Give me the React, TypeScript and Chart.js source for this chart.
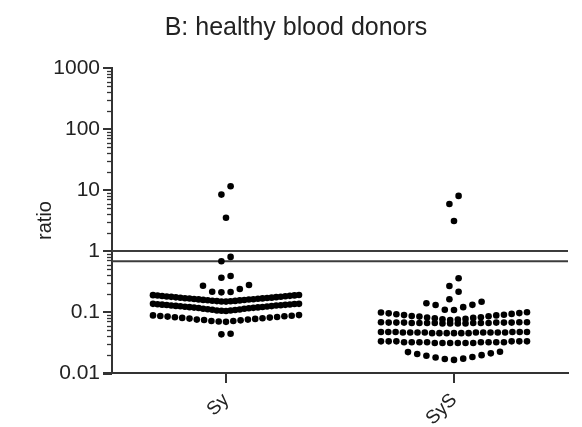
import React, { useEffect, useRef } from 'react';
import { Chart, registerables } from 'chart.js';

Chart.register(...registerables);

// ---------------- data ----------------
const TITLE = 'B: healthy blood donors';
const Y_TITLE = 'ratio';
const CATEGORIES = ['Sy', 'SyS'];
const Y_TICKS = [0.01, 0.1, 1, 10, 100, 1000];
const Y_TICK_LABELS = ['0.01', '0.1', '1', '10', '100', '1000'];
const REF_LINES = [1, 0.68];

const SY_VALUES = [
  11.5, 8.4, 3.5, 0.8, 0.68, 0.39, 0.365,
  0.277, 0.27, 0.238, 0.215, 0.213, 0.21,
  0.148, 0.149, 0.15, 0.151, 0.152, 0.153, 0.155, 0.156, 0.157, 0.158, 0.16,
  0.161, 0.162, 0.163, 0.165, 0.166, 0.167, 0.168, 0.17, 0.171, 0.172, 0.174,
  0.175, 0.177, 0.178, 0.18, 0.181, 0.183, 0.184, 0.186, 0.187, 0.189, 0.19,
  0.104, 0.105, 0.106, 0.106, 0.108, 0.109, 0.11, 0.111, 0.113, 0.113, 0.115,
  0.116, 0.117, 0.118, 0.119, 0.12, 0.121, 0.122, 0.123, 0.124, 0.125, 0.126,
  0.128, 0.128, 0.129, 0.13, 0.131, 0.132, 0.133, 0.134, 0.135, 0.136, 0.136,
  0.069, 0.07, 0.071, 0.071, 0.073, 0.074, 0.075, 0.075, 0.077, 0.078, 0.079,
  0.08, 0.081, 0.082, 0.083, 0.084, 0.085, 0.086, 0.087, 0.088, 0.089,
  0.044, 0.043,
];

const SYS_VALUES = [
  8.0, 5.9, 3.1,
  0.357, 0.267, 0.215, 0.162,
  0.147, 0.139, 0.131, 0.13, 0.12, 0.109, 0.108,
  0.074, 0.075, 0.076, 0.077, 0.079, 0.08, 0.081, 0.082, 0.084, 0.085,
  0.086, 0.088, 0.089, 0.09, 0.092, 0.093, 0.095, 0.096, 0.098, 0.099,
  0.068, 0.068, 0.068, 0.067, 0.067, 0.067, 0.067, 0.067, 0.067, 0.066,
  0.066, 0.066, 0.066, 0.066, 0.066, 0.066, 0.065, 0.065, 0.065, 0.065,
  0.047, 0.047, 0.047, 0.047, 0.047, 0.047, 0.046, 0.046, 0.046, 0.046, 0.046,
  0.046, 0.046, 0.046, 0.046, 0.045, 0.045, 0.045, 0.045, 0.045, 0.045,
  0.033, 0.033, 0.033, 0.033, 0.033, 0.033, 0.032, 0.032, 0.032, 0.032,
  0.032, 0.032, 0.032, 0.032, 0.031, 0.031, 0.031, 0.031, 0.031, 0.031,
  0.0164, 0.017, 0.0172, 0.018, 0.0183, 0.0192, 0.0196, 0.0205, 0.021, 0.022, 0.0223,
];

// ---------------- layout / style ----------------
const FONT = '"Liberation Sans", Arial, Helvetica, sans-serif';
const INK = '#222';
const AXIS = '#333';
const GROUP_SPAN = 0.139; // decades grouped into one swarm row
const PX_PER_UNIT = 228;
const DOT_STEP = 9.2 / PX_PER_UNIT;
const SWARM_WIDTH = 146 / PX_PER_UNIT;

function swarm(values: number[], cx: number) {
  const sorted = [...values].sort((a, b) => b - a);
  const groups: number[][] = [];
  let cur: number[] = [];
  let start = 0;
  for (const v of sorted) {
    if (cur.length && Math.log10(start) - Math.log10(v) < GROUP_SPAN) cur.push(v);
    else {
      if (cur.length) groups.push(cur);
      cur = [v];
      start = v;
    }
  }
  if (cur.length) groups.push(cur);
  const pts: { x: number; y: number }[] = [];
  for (const g of groups) {
    const asc = [...g].sort((a, b) => a - b);
    const n = asc.length;
    const step = n > 1 ? Math.min(DOT_STEP, SWARM_WIDTH / (n - 1)) : 0;
    const slots = Array.from({ length: n }, (_, i) => i - (n - 1) / 2);
    slots.sort((a, b) => Math.abs(a) - Math.abs(b) || a - b);
    asc.forEach((v, i) => pts.push({ x: cx + slots[i] * step, y: v }));
  }
  return pts;
}

const decorPlugin = {
  id: 'decor',
  afterDraw(chart: any) {
    const { ctx, chartArea } = chart;
    const ys = chart.scales.y;
    ctx.save();
    ctx.strokeStyle = AXIS;
    // y-axis tick marks (major + minor)
    const left = chartArea.left;
    Y_TICKS.forEach((d, i) => {
      const py = Math.round(ys.getPixelForValue(d));
      ctx.lineWidth = 2;
      ctx.beginPath();
      ctx.moveTo(left - 9, py);
      ctx.lineTo(left, py);
      ctx.stroke();
      if (i < Y_TICKS.length - 1) {
        for (let m = 2; m <= 9; m++) {
          const p = Math.round(ys.getPixelForValue(m * d)) + 0.5;
          ctx.lineWidth = 1.3;
          ctx.beginPath();
          ctx.moveTo(left - 5, p);
          ctx.lineTo(left, p);
          ctx.stroke();
        }
      }
    });
    // x-axis line extension to the left
    ctx.lineWidth = 2;
    ctx.beginPath();
    ctx.moveTo(left - 9, chartArea.bottom + 1);
    ctx.lineTo(left, chartArea.bottom + 1);
    ctx.stroke();
    // title
    ctx.fillStyle = INK;
    ctx.font = `25px ${FONT}`;
    ctx.textAlign = 'center';
    ctx.textBaseline = 'alphabetic';
    ctx.fillText(TITLE, 296, 35);
    ctx.restore();
  },
};

export default function App() {
  const ref = useRef<HTMLCanvasElement | null>(null);
  useEffect(() => {
    if (!ref.current) return;
    const pointsSy = swarm(SY_VALUES, 0);
    const pointsSyS = swarm(SYS_VALUES, 1);
    const refDatasets = REF_LINES.map((v) => ({
      type: 'line' as const,
      data: [
        { x: -0.5, y: v },
        { x: 1.5, y: v },
      ],
      borderColor: '#3c3c3c',
      borderWidth: 2,
      pointRadius: 0,
      fill: false,
      order: 2,
    }));
    const dotStyle = {
      pointRadius: 3.3,
      pointHoverRadius: 3.3,
      backgroundColor: '#000',
      borderColor: '#000',
      borderWidth: 0,
      order: 1,
    };
    const chart = new Chart(ref.current, {
      type: 'scatter',
      data: {
        datasets: [
          ...refDatasets,
          { type: 'scatter' as const, label: CATEGORIES[0], data: pointsSy, ...dotStyle },
          { type: 'scatter' as const, label: CATEGORIES[1], data: pointsSyS, ...dotStyle },
        ] as any,
      },
      options: {
        responsive: false,
        animation: false,
        events: [],
        layout: { padding: { top: 68, right: 14, bottom: 0, left: 0 } },
        plugins: {
          legend: { display: false },
          tooltip: { enabled: false },
          title: { display: false },
        },
        scales: {
          x: {
            type: 'linear',
            min: -0.5,
            max: 1.5,
            afterBuildTicks: (s: any) => {
              s.ticks = CATEGORIES.map((_, i) => ({ value: i }));
            },
            afterFit: (s: any) => {
              s.height = 54;
            },
            grid: {
              display: true,
              drawOnChartArea: false,
              drawTicks: true,
              tickLength: 10,
              color: AXIS,
              lineWidth: 2,
            },
            border: { display: true, color: AXIS, width: 2 },
            ticks: {
              autoSkip: false,
              minRotation: 45,
              maxRotation: 45,
              padding: 6,
              color: INK,
              font: { family: FONT, size: 19 },
              callback: (v: any) => CATEGORIES[v as number] ?? '',
            },
          },
          y: {
            type: 'logarithmic',
            min: 0.01,
            max: 1000,
            afterBuildTicks: (s: any) => {
              s.ticks = Y_TICKS.map((v) => ({ value: v }));
            },
            afterFit: (s: any) => {
              s.width = 112;
            },
            grid: { display: false, drawTicks: false },
            border: { display: true, color: AXIS, width: 2 },
            ticks: {
              autoSkip: false,
              padding: 12,
              color: INK,
              font: { family: FONT, size: 21 },
              callback: (v: any) => {
                const i = Y_TICKS.indexOf(Number(v));
                return i >= 0 ? Y_TICK_LABELS[i] : '';
              },
            },
            title: {
              display: true,
              text: Y_TITLE,
              color: INK,
              font: { family: FONT, size: 20 },
              padding: { top: 33, bottom: 0 },
            },
          },
        },
      },
      plugins: [decorPlugin],
    });
    return () => chart.destroy();
  }, []);
  return (
    <div style={{ position: 'absolute', left: 0, top: 0, width: 582, height: 427, background: '#fff' }}>
      <canvas ref={ref} width={582} height={427} />
    </div>
  );
}
